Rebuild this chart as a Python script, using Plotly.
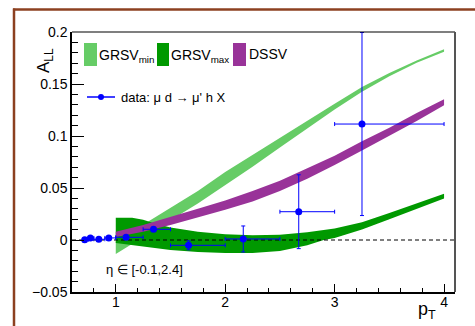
import plotly.graph_objects as go

# ---- data ------------------------------------------------------------
# measured A_LL vs p_T (mu d -> mu' h X)
pt = [0.716, 0.768, 0.845, 0.936, 1.094, 1.345, 1.665, 2.165, 2.672, 3.25]
pt_lo = [0.70, 0.75, 0.80, 0.90, 1.00, 1.25, 1.50, 2.00, 2.50, 3.00]
pt_hi = [0.75, 0.80, 0.90, 1.00, 1.25, 1.50, 2.00, 2.50, 3.00, 4.00]
all_val = [0.0003, 0.002, 0.0007, 0.002, 0.0026, 0.0103, -0.0051, 0.001, 0.0272, 0.1115]
all_err = [0.001, 0.001, 0.001, 0.001, 0.0015, 0.002, 0.0043, 0.0125, 0.0355, 0.088]

# theory bands: p_T grid with lower / upper edges
band_pt = [1.0, 1.25, 1.5, 1.75, 2.0, 2.25, 2.5, 2.75, 3.0, 3.25, 3.5, 3.75, 4.0]
grsv_min_lo = [-0.0135, 0.003, 0.019, 0.035, 0.0525, 0.0705, 0.089, 0.107, 0.1255, 0.1426, 0.1575, 0.1705, 0.181]
grsv_min_hi = [-0.0015, 0.015, 0.031, 0.047, 0.0655, 0.082, 0.098, 0.1145, 0.131, 0.147, 0.1605, 0.1725, 0.1834]

grsv_max_pt = [1.0, 1.15, 1.25, 1.35, 1.5, 1.75, 2.0, 2.25, 2.5, 2.75, 2.9, 3.0, 3.25, 3.5, 3.75, 4.0]
grsv_max_lo = [-0.003, -0.005, -0.006, -0.0075, -0.0095, -0.0115, -0.0125, -0.0125, -0.0105, -0.005,
               0.0, 0.002, 0.010, 0.020, 0.030, 0.040]
grsv_max_hi = [0.0215, 0.0213, 0.0195, 0.016, 0.012, 0.008, 0.0055, 0.0045, 0.005, 0.0075,
               0.0095, 0.011, 0.017, 0.026, 0.035, 0.0445]

dssv_lo = [0.003, 0.008, 0.0145, 0.0215, 0.029, 0.037, 0.047, 0.059, 0.072, 0.086, 0.100, 0.1145, 0.1295]
dssv_hi = [0.008, 0.0145, 0.022, 0.030, 0.038, 0.047, 0.057, 0.069, 0.081, 0.095, 0.108, 0.122, 0.1353]

x_ticks = [1, 2, 3, 4]
x_ticktext = ["1", "2", "3", "4"]
y_ticks = [-0.05, 0, 0.05, 0.1, 0.15, 0.2]
y_ticktext = ["\u22120.05", "0", "0.05", "0.1", "0.15", "0.2"]

# ---- styling ---------------------------------------------------------
C_MIN = "#66cc66"
C_MAX = "#009900"
C_DSSV = "#993399"
C_DATA = "#0000ff"
FONT = "Liberation Sans, Arial, Helvetica, sans-serif"

W, H = 475, 326
L, R, T, B = 72, 455, 32, 292


def fx(px):
    return (px - L) / (R - L)


def fy(py):
    return (B - py) / (B - T)


def band(xs, lo, hi, color, name):
    return go.Scatter(
        x=list(xs) + list(xs)[::-1],
        y=list(lo) + list(hi)[::-1],
        fill="toself", fillcolor=color, mode="lines",
        line=dict(width=0, color=color), name=name,
        showlegend=False, hoverinfo="skip",
    )


fig = go.Figure()
fig.add_trace(band(band_pt, grsv_min_lo, grsv_min_hi, C_MIN, "GRSV_min"))
fig.add_trace(band(grsv_max_pt, grsv_max_lo, grsv_max_hi, C_MAX, "GRSV_max"))
fig.add_trace(band(band_pt, dssv_lo, dssv_hi, C_DSSV, "DSSV"))

# zero reference line
fig.add_trace(go.Scatter(
    x=[0.6, 4.1], y=[0, 0], mode="lines",
    line=dict(color="black", width=1, dash="4px,3px"),
    showlegend=False, hoverinfo="skip",
))

fig.add_trace(go.Scatter(
    x=pt, y=all_val, mode="markers",
    marker=dict(color=C_DATA, size=7, symbol="circle"),
    error_y=dict(type="data", array=all_err, color=C_DATA, thickness=1, width=2),
    error_x=dict(type="data",
                 array=[h - p for h, p in zip(pt_hi, pt)],
                 arrayminus=[p - l for p, l in zip(pt, pt_lo)],
                 color=C_DATA, thickness=1, width=2),
    showlegend=False,
))

axis_common = dict(
    showgrid=False, zeroline=False, showline=True, linecolor="black",
    linewidth=1.5, ticks="inside", tickcolor="black", mirror=False,
    tickfont=dict(family=FONT, size=14, color="black"),
)

fig.update_xaxes(
    range=[0.6, 4.1], tickmode="array", tickvals=x_ticks, ticktext=x_ticktext,
    ticklen=8, tickwidth=1, ticklabelstandoff=-4,
    minor=dict(ticks="inside", ticklen=4, tickmode="linear", tick0=0, dtick=0.2,
               tickcolor="black", tickwidth=1),
    **axis_common,
)
fig.update_yaxes(
    range=[-0.05, 0.2], tickmode="array", tickvals=y_ticks, ticktext=y_ticktext,
    ticklen=12, tickwidth=1,
    minor=dict(ticks="inside", ticklen=6, tickmode="linear", tick0=0, dtick=0.01,
               tickcolor="black", tickwidth=1),
    **axis_common,
)

shapes = []
# frame: top and right edges
shapes.append(dict(type="line", xref="paper", yref="paper", x0=0, x1=1, y0=1, y1=1,
                   line=dict(color="black", width=1.2)))
shapes.append(dict(type="line", xref="paper", yref="paper", x0=1, x1=1, y0=0, y1=1,
                   line=dict(color="#555555", width=2)))
# outer brown border (top and left)
shapes.append(dict(type="line", xref="paper", yref="paper", x0=fx(13), x1=fx(480),
                   y0=fy(9.5), y1=fy(9.5), line=dict(color="#8c4020", width=2.5)))
shapes.append(dict(type="line", xref="paper", yref="paper", x0=fx(14), x1=fx(14),
                   y0=fy(8.5), y1=fy(330), line=dict(color="#8c4020", width=2.5)))

# legend boxes
for x0, x1, c in [(84, 97, C_MIN), (157, 169, C_MAX), (233, 246, C_DSSV)]:
    shapes.append(dict(type="rect", xref="paper", yref="paper",
                       x0=fx(x0), x1=fx(x1), y0=fy(66), y1=fy(43),
                       fillcolor=c, line=dict(width=0)))
# data legend line and marker
shapes.append(dict(type="line", xref="paper", yref="paper", x0=fx(87), x1=fx(115),
                   y0=fy(97), y1=fy(97), line=dict(color=C_DATA, width=1.5)))
shapes.append(dict(type="circle", xref="paper", yref="paper", x0=fx(98), x1=fx(104),
                   y0=fy(100), y1=fy(94), fillcolor=C_DATA, line=dict(width=0)))

annotations = []


def text(px, py, s, size=14, anchor="left", angle=0):
    annotations.append(dict(
        x=fx(px), y=fy(py), xref="paper", yref="paper", text=s, showarrow=False,
        xanchor=anchor, yanchor="middle", textangle=angle,
        font=dict(family=FONT, size=size, color="black"),
    ))


text(97, 56, "GRSV<sub>min</sub>")
text(169, 56, "GRSV<sub>max</sub>")
text(247, 54, "DSSV")
text(119, 97, "data: \u03bc d \u2192 \u03bc' h X", size=13)
text(104, 269, "\u03b7 \u2208 [-0.1,2.4]", size=13)
text(45, 61, "A<sub>LL</sub>", size=17, anchor="center", angle=-90)
text(416, 310, "p<sub>T</sub>", size=18)

fig.update_layout(
    width=W, height=H,
    margin=dict(l=L, r=W - R, t=T, b=H - B),
    paper_bgcolor="white", plot_bgcolor="white",
    shapes=shapes, annotations=annotations, showlegend=False,
    font=dict(family=FONT),
)

fig.write_html("out.html")
